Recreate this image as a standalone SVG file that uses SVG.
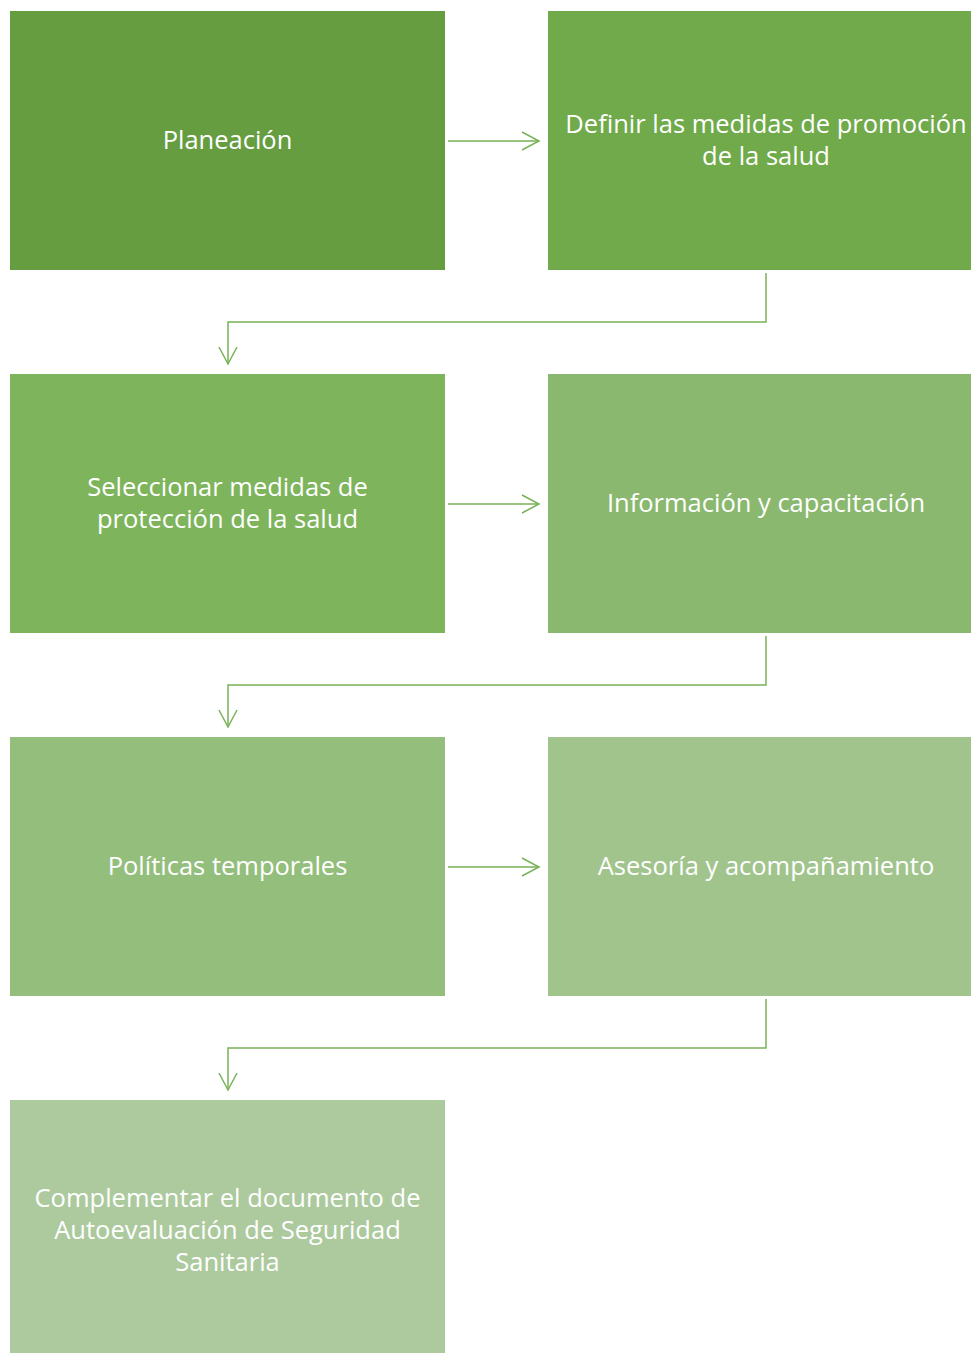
<svg xmlns="http://www.w3.org/2000/svg" width="971" height="1353" viewBox="0 0 971 1353">
<defs>
<style>
.t{font-family:"Open Sans","Noto Sans","Liberation Sans",sans-serif;font-size:25.5px;fill:#ffffff;text-anchor:middle}
.c{fill:none;stroke:#78B257;stroke-width:1.5}
</style>
<marker id="ah" markerWidth="20" markerHeight="20" refX="18" refY="10" orient="auto" markerUnits="userSpaceOnUse">
<path d="M1,1 L18,10 L1,19" fill="none" stroke="#78B257" stroke-width="1.5"/>
</marker>
</defs>
<rect width="971" height="1353" fill="#ffffff"/>
<g id="connectors">
<line class="c" x1="448" y1="141" x2="539" y2="141" marker-end="url(#ah)"/>
<path class="c" d="M766,273 V322 H228 V364" marker-end="url(#ah)"/>
<line class="c" x1="448" y1="504" x2="539" y2="504" marker-end="url(#ah)"/>
<path class="c" d="M766,636 V685 H228 V727" marker-end="url(#ah)"/>
<line class="c" x1="448" y1="867" x2="539" y2="867" marker-end="url(#ah)"/>
<path class="c" d="M766,999 V1048 H228 V1090" marker-end="url(#ah)"/>
</g>
<g id="n1"><rect x="10" y="11" width="435" height="259" fill="#669D41"/><text class="t" x="227.5" y="149">Planeación</text></g>
<g id="n2"><rect x="548" y="11" width="423" height="259" fill="#70AA4A"/><text class="t" x="766" y="133">Definir las medidas de promoción</text><text class="t" x="766" y="165">de la salud</text></g>
<g id="n3"><rect x="10" y="374" width="435" height="259" fill="#7EB45B"/><text class="t" x="227.5" y="496">Seleccionar medidas de</text><text class="t" x="227.5" y="528">protección de la salud</text></g>
<g id="n4"><rect x="548" y="374" width="423" height="259" fill="#89B86E"/><text class="t" x="766" y="512">Información y capacitación</text></g>
<g id="n5"><rect x="10" y="737" width="435" height="259" fill="#93BE7C"/><text class="t" x="227.5" y="875">Políticas temporales</text></g>
<g id="n6"><rect x="548" y="737" width="423" height="259" fill="#A1C48D"/><text class="t" x="766" y="875">Asesoría y acompañamiento</text></g>
<g id="n7"><rect x="10" y="1100" width="435" height="253" fill="#ACCA9E"/><text class="t" x="227.5" y="1207">Complementar el documento de</text><text class="t" x="227.5" y="1239">Autoevaluación de Seguridad</text><text class="t" x="227.5" y="1271">Sanitaria</text></g>
</svg>
